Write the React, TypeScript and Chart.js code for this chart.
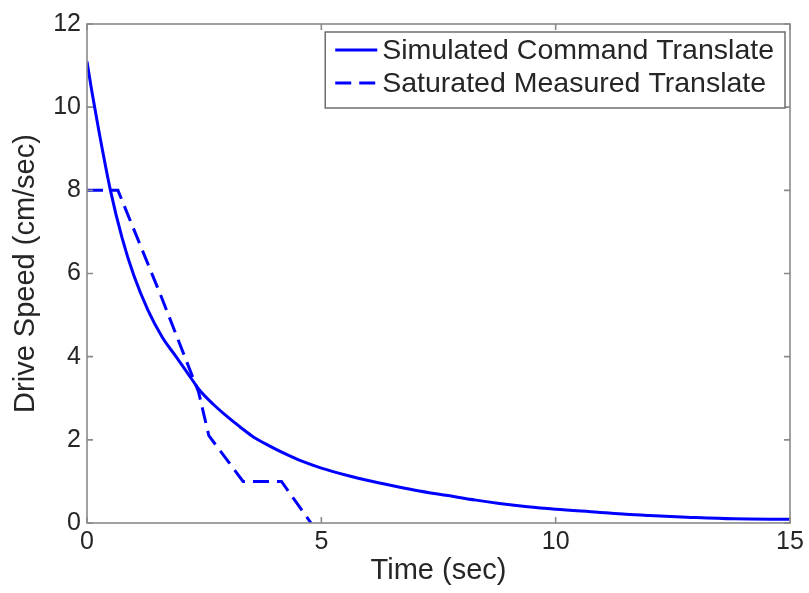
import React, { useEffect, useRef } from "react";
import { Chart, registerables } from "chart.js";

Chart.register(...registerables);

// ---- Data ----
const simTime = [0, 0.1, 0.25, 0.5, 0.75, 1.0, 1.3, 1.6, 1.9, 2.15, 2.4, 2.7, 3.0, 3.3, 3.55, 3.9, 4.2, 4.6, 5.0, 5.6, 6.0, 6.5, 7.0, 7.7, 8.3, 8.8, 9.4, 10.0, 10.9, 11.5, 12.0, 12.8, 13.8, 15.0];
const simSpeed = [11.1, 10.4, 9.45, 8.0, 6.85, 5.95, 5.12, 4.48, 4.0, 3.6, 3.2, 2.85, 2.55, 2.28, 2.07, 1.85, 1.68, 1.48, 1.32, 1.13, 1.02, 0.9, 0.79, 0.66, 0.55, 0.47, 0.39, 0.33, 0.26, 0.21, 0.18, 0.14, 0.1, 0.09];
const measTime = [0, 0.66, 1.6, 2.38, 2.6, 3.33, 4.15, 4.78];
const measSpeed = [8, 8, 5.4, 3.15, 2.1, 1.0, 1.0, 0];

const seriesLabels = ["Simulated Command Translate", "Saturated Measured Translate"];
const xTitle = "Time (sec)";
const yTitle = "Drive Speed (cm/sec)";
const xRange = [0, 15];
const yRange = [0, 12];
const xStep = 5;
const yStep = 2;

const FONT = "'Liberation Sans', Arial, Helvetica, sans-serif";
const TEXT = "#262626";
const BLUE = "#0000ff";

const framePlugin = {
  id: "frame",
  afterDraw(chart: any) {
    const { ctx, chartArea } = chart;
    const { left, right, top, bottom } = chartArea;
    ctx.save();
    ctx.strokeStyle = "#8a8a8a";
    ctx.lineWidth = 1.6;
    ctx.strokeRect(left, top, right - left, bottom - top);
    const tl = 6;
    const xs = chart.scales.x;
    const ys = chart.scales.y;
    ctx.beginPath();
    xs.ticks.forEach((t: any) => {
      const px = xs.getPixelForValue(t.value);
      ctx.moveTo(px, bottom);
      ctx.lineTo(px, bottom - tl);
      ctx.moveTo(px, top);
      ctx.lineTo(px, top + tl);
    });
    ys.ticks.forEach((t: any) => {
      const py = ys.getPixelForValue(t.value);
      ctx.moveTo(left, py);
      ctx.lineTo(left + tl, py);
      ctx.moveTo(right, py);
      ctx.lineTo(right - tl, py);
    });
    ctx.stroke();

    // legend box
    ctx.font = `28.5px ${FONT}`;
    const ds = chart.data.datasets;
    let maxW = 0;
    ds.forEach((d: any) => {
      maxW = Math.max(maxW, ctx.measureText(d.label).width);
    });
    const padL = 10;
    const lineLen = 42;
    const gap = 5;
    const padR = 11;
    const boxW = padL + lineLen + gap + maxW + padR;
    const boxR = right - 5;
    const boxL = boxR - boxW;
    const boxT = top + 8;
    const rowH = 33;
    const boxH = 76;
    ctx.fillStyle = "#ffffff";
    ctx.fillRect(boxL, boxT, boxW, boxH);
    ctx.strokeStyle = "#6e6e6e";
    ctx.lineWidth = 1.5;
    ctx.setLineDash([]);
    ctx.strokeRect(boxL, boxT, boxW, boxH);
    ds.forEach((d: any, i: number) => {
      const cy = boxT + 18 + i * rowH;
      ctx.save();
      ctx.strokeStyle = d.borderColor;
      ctx.lineWidth = d.borderWidth;
      ctx.setLineDash(d.borderDash || []);
      ctx.beginPath();
      ctx.moveTo(boxL + padL, cy);
      ctx.lineTo(boxL + padL + lineLen, cy);
      ctx.stroke();
      ctx.restore();
      ctx.fillStyle = TEXT;
      ctx.textBaseline = "middle";
      ctx.textAlign = "left";
      ctx.fillText(d.label, boxL + padL + lineLen + gap, cy + 1);
    });
    ctx.restore();
  },
};

export default function App() {
  const ref = useRef<HTMLCanvasElement | null>(null);

  useEffect(() => {
    if (!ref.current) return;
    const sim = simTime.map((t, i) => ({ x: t, y: simSpeed[i] }));
    const meas = measTime.map((t, i) => ({ x: t, y: measSpeed[i] }));
    const chart = new Chart(ref.current, {
      type: "line",
      data: {
        datasets: [
          {
            label: seriesLabels[0],
            data: sim,
            borderColor: BLUE,
            backgroundColor: BLUE,
            borderWidth: 3,
            pointRadius: 0,
            cubicInterpolationMode: "monotone",
            fill: false,
          },
          {
            label: seriesLabels[1],
            data: meas,
            borderColor: BLUE,
            backgroundColor: BLUE,
            borderWidth: 3,
            borderDash: [16, 8],
            pointRadius: 0,
            tension: 0,
            fill: false,
          },
        ],
      },
      options: {
        animation: false,
        responsive: true,
        maintainAspectRatio: false,
        layout: { padding: { left: 0, top: 24, right: 19, bottom: 0 } },
        plugins: {
          legend: { display: false },
          tooltip: { enabled: false },
        },
        scales: {
          x: {
            type: "linear",
            min: xRange[0],
            max: xRange[1],
            grid: { display: false, drawTicks: false },
            border: { display: false },
            ticks: {
              stepSize: xStep,
              padding: 4,
              color: TEXT,
              font: { family: FONT, size: 25 },
              maxRotation: 0,
            },
            title: {
              display: true,
              text: xTitle,
              color: TEXT,
              font: { family: FONT, size: 29 },
              padding: { top: 0, bottom: 5 },
            },
            afterFit: (s: any) => {
              s.height = 70;
            },
          },
          y: {
            type: "linear",
            min: yRange[0],
            max: yRange[1],
            grid: { display: false, drawTicks: false },
            border: { display: false },
            ticks: {
              stepSize: yStep,
              padding: 6,
              color: TEXT,
              font: { family: FONT, size: 25 },
            },
            title: {
              display: true,
              text: yTitle,
              color: TEXT,
              font: { family: FONT, size: 29 },
              padding: { top: 9, bottom: 0 },
            },
            afterFit: (s: any) => {
              s.width = 87;
            },
          },
        },
      },
      plugins: [framePlugin],
    });
    return () => chart.destroy();
  }, []);

  return (
    <div
      style={{
        position: "fixed",
        left: 0,
        top: 0,
        width: 809,
        height: 593,
        background: "#ffffff",
      }}
    >
      <canvas ref={ref} />
    </div>
  );
}
